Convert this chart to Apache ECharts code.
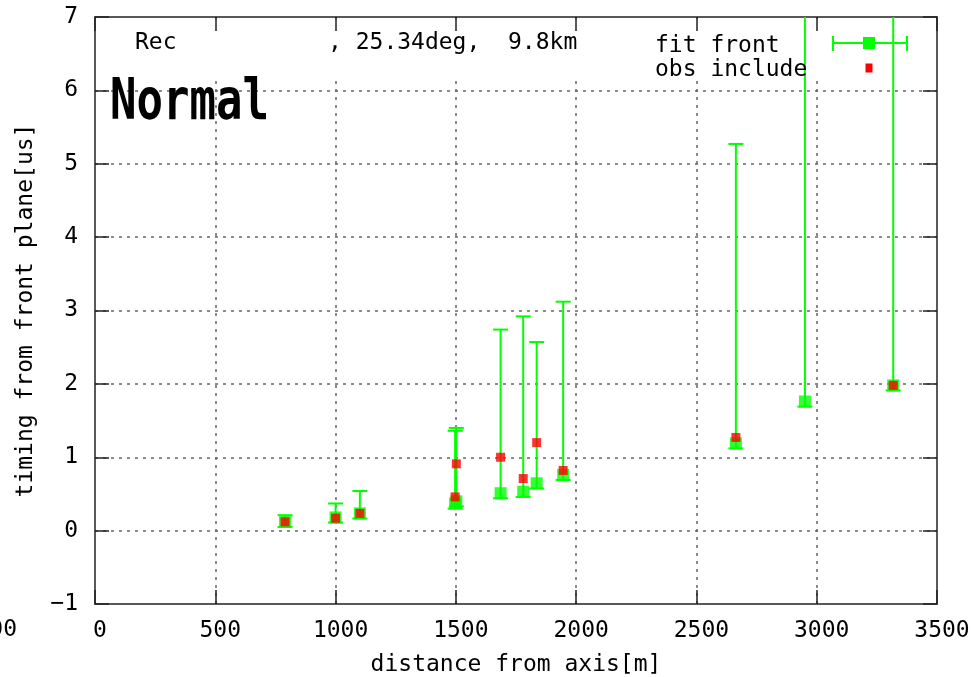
<!DOCTYPE html>
<html>
<head>
<meta charset="utf-8">
<script src="https://cdn.jsdelivr.net/npm/echarts@6/dist/echarts.min.js"></script>
<style>
html,body{margin:0;padding:0;background:#fff;}
#chart{width:972px;height:677px;}
</style>
</head>
<body>
<div id="chart"></div>
<script>
// ---- data ----
const distances  = [790, 1000, 1101, 1497, 1502, 1686, 1780, 1836, 1946, 2664, 2951, 3318];
const fitFront   = [0.12, 0.18, 0.235, 0.37, 0.40, 0.51, 0.53, 0.645, 0.76, 1.19, 1.76, 1.98];
const fitLow     = [0.05, 0.11, 0.165, 0.30, 0.33, 0.44, 0.46, 0.575, 0.69, 1.12, 1.69, 1.91];
const fitHigh    = [0.21, 0.37, 0.54, 1.36, 1.40, 2.74, 2.92, 2.57, 3.12, 5.27, 8.5, 9.0];
const obsInclude = [0.12, 0.17, 0.235, 0.46, 0.91, 1.00, 0.71, 1.20, 0.82, 1.27, null, 1.98];
const seriesNames = ['fit front', 'obs include'];
const titleLeft = 'Rec';
const titleRight = ', 25.34deg,  9.8km';
const bigLabel = 'Normal';
const xName = 'distance from axis[m]';
const yName = 'timing from front plane[us]';

const FONT = '"DejaVu Sans Mono", monospace';
const GREEN = '#00ff00';
const RED = '#ff0000';

const chart = echarts.init(document.getElementById('chart'), null, {renderer: 'canvas'});

const gridLine = {show: true, lineStyle: {color: '#666', width: 1.5, type: [3, 5]}, showMinLine: false, showMaxLine: false};
const labelStyle = {color: '#000', fontFamily: FONT, fontSize: 23};

const errData = distances.map((d, i) => [d, fitLow[i], fitHigh[i]]);
const fitData = distances.map((d, i) => [d, fitFront[i]]);
const obsData = distances.map((d, i) => [d, obsInclude[i]]).filter(p => p[1] !== null);

const option = {
  backgroundColor: '#fff',
  animation: false,
  grid: {left: 95, right: 35, top: 17, bottom: 73, containLabel: false, outerBoundsMode: 'none'},
  xAxis: [{
    type: 'value', min: 0, max: 3500, interval: 500, position: 'bottom', z: 0,
    axisLine: {show: true, onZero: false, lineStyle: {color: '#222', width: 1.5}},
    axisTick: {show: true, inside: true, length: 14, lineStyle: {color: '#222', width: 1.5}},
    axisLabel: Object.assign({margin: 16, padding: [0, 0, 0, 10], formatter: v => String(v), hideOverlap: false}, labelStyle),
    splitLine: gridLine,
    name: xName, nameLocation: 'middle', nameGap: 50,
    nameTextStyle: labelStyle
  }, {
    type: 'value', min: 0, max: 3500, interval: 500, position: 'top', z: 3,
    axisLine: {show: true, onZero: false, lineStyle: {color: '#222', width: 1.5}},
    axisTick: {show: true, inside: true, length: 14, lineStyle: {color: '#222', width: 1.5}},
    axisLabel: {show: false}, splitLine: {show: false}
  }],
  yAxis: [{
    type: 'value', min: -1, max: 7, interval: 1, position: 'left', z: 0,
    axisLine: {show: true, onZero: false, lineStyle: {color: '#222', width: 1.5}},
    axisTick: {show: true, inside: true, length: 14, lineStyle: {color: '#222', width: 1.5}},
    axisLabel: Object.assign({margin: 17, formatter: v => v < 0 ? '\u2212' + Math.abs(v) : String(v)}, labelStyle),
    splitLine: gridLine,
    name: yName, nameLocation: 'middle', nameGap: 57, nameRotate: 90,
    nameTextStyle: labelStyle
  }, {
    type: 'value', min: -1, max: 7, interval: 1, position: 'right', z: 3,
    axisLine: {show: true, onZero: false, lineStyle: {color: '#222', width: 1.5}},
    axisTick: {show: true, inside: true, length: 14, lineStyle: {color: '#222', width: 1.5}},
    axisLabel: {show: false}, splitLine: {show: false}
  }],
  series: [{
    type: 'custom', name: seriesNames[0] + ' err', z: 4, clip: true,
    data: errData,
    renderItem: function (params, api) {
      const x = api.value(0), lo = api.value(1), hi = api.value(2);
      const pLo = api.coord([x, lo]);
      const pHi = api.coord([x, hi]);
      const hw = 7.5;
      const st = {stroke: GREEN, lineWidth: 2};
      const cs = params.coordSys;
      return {
        type: 'group',
        clipPath: {type: 'rect', shape: {x: cs.x, y: cs.y, width: cs.width, height: cs.height}},
        children: [
          {type: 'line', shape: {x1: pLo[0], y1: pLo[1], x2: pHi[0], y2: pHi[1]}, style: st},
          {type: 'line', shape: {x1: pLo[0] - hw, y1: pLo[1], x2: pLo[0] + hw, y2: pLo[1]}, style: st},
          {type: 'line', shape: {x1: pHi[0] - hw, y1: pHi[1], x2: pHi[0] + hw, y2: pHi[1]}, style: st}
        ]
      };
    }
  }, {
    type: 'scatter', name: seriesNames[0], z: 5, symbol: 'rect', symbolSize: 12,
    itemStyle: {color: GREEN}, data: fitData
  }, {
    type: 'scatter', name: seriesNames[1], z: 6, symbol: 'rect', symbolSize: 9,
    itemStyle: {color: RED}, data: obsData
  }],
  graphic: [
    {type: 'rect', z: 1, shape: {x: 97, y: 19, width: 838, height: 61}, style: {fill: '#fff'}},
    {type: 'text', z: 10, x: 135, y: 43, style: {text: titleLeft, font: '23px ' + FONT, fill: '#000', verticalAlign: 'middle'}},
    {type: 'text', z: 10, x: 328, y: 43, style: {text: titleRight, font: '23px ' + FONT, fill: '#000', verticalAlign: 'middle'}},
    {type: 'text', z: 10, x: 110, y: 104, scaleY: 1.3, style: {text: bigLabel, font: 'bold 44px ' + FONT, fill: '#000', verticalAlign: 'middle'}},
    {type: 'text', z: 10, x: 655, y: 46, style: {text: seriesNames[0], font: '23px ' + FONT, fill: '#000', verticalAlign: 'middle'}},
    {type: 'text', z: 10, x: 655, y: 70, style: {text: seriesNames[1], font: '23px ' + FONT, fill: '#000', verticalAlign: 'middle'}},
    {type: 'line', z: 10, shape: {x1: 833, y1: 43, x2: 907, y2: 43}, style: {stroke: GREEN, lineWidth: 2}},
    {type: 'line', z: 10, shape: {x1: 833, y1: 36, x2: 833, y2: 51}, style: {stroke: GREEN, lineWidth: 2}},
    {type: 'line', z: 10, shape: {x1: 907, y1: 36, x2: 907, y2: 51}, style: {stroke: GREEN, lineWidth: 2}},
    {type: 'rect', z: 11, shape: {x: 863, y: 37, width: 12, height: 12}, style: {fill: GREEN}},
    {type: 'rect', z: 11, shape: {x: 865.5, y: 63.5, width: 7, height: 9}, style: {fill: RED}},
    {type: 'text', z: 10, x: 17, y: 630, style: {text: '00', font: '23px ' + FONT, fill: '#000', align: 'right', verticalAlign: 'middle'}}
  ]
};
chart.setOption(option);
</script>
</body>
</html>
